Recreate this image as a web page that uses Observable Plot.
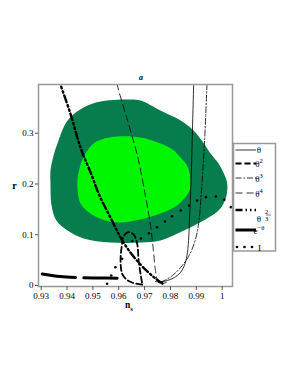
<!DOCTYPE html>
<html><head><meta charset="utf-8">
<script src="https://cdn.jsdelivr.net/npm/d3@7"></script>
<script src="https://cdn.jsdelivr.net/npm/@observablehq/plot@0.6"></script>
<style>body{margin:0;background:#fff}</style>
</head><body><div id="chart"></div>
<script>
const xTicks = [0.93,0.94,0.95,0.96,0.97,0.98,0.99,1];
const yTicks = [0,0.1,0.2,0.3];

// 95% CL region (ns, r)
const outer95 = [[0.9336,0.2009],[0.9336,0.2265],[0.9348,0.2561],[0.9363,0.2797],[0.9402,0.3250],[0.9464,0.3506],[0.9529,0.3624],[0.9634,0.3664],[0.9684,0.3644],[0.9761,0.3447],[0.9839,0.3250],[0.9889,0.3053],[0.9924,0.2836],[0.9955,0.2600],[0.9986,0.2403],[1.0001,0.2265],[1.0019,0.2029],[1.0017,0.1773],[1.0001,0.1576],[0.9982,0.1458],[0.9935,0.1300],[0.9877,0.1142],[0.9819,0.1005],[0.9761,0.0886],[0.9684,0.0847],[0.9568,0.0847],[0.9464,0.0926],[0.9402,0.1083],[0.9359,0.1280],[0.9340,0.1576]];
// 68% CL region
const inner68 = [[0.9440,0.2009],[0.9448,0.2304],[0.9467,0.2561],[0.9502,0.2797],[0.9545,0.2895],[0.9595,0.2935],[0.9684,0.2915],[0.9761,0.2797],[0.9808,0.2679],[0.9839,0.2521],[0.9866,0.2344],[0.9877,0.2108],[0.9874,0.1871],[0.9854,0.1714],[0.9819,0.1556],[0.9761,0.1418],[0.9684,0.1300],[0.9607,0.1241],[0.9549,0.1280],[0.9491,0.1418],[0.9452,0.1615]];

const theta1 = [[0.9891,0.42],[0.9885,0.3053],[0.9881,0.2265],[0.9875,0.1477],[0.9870,0.0886],[0.9864,0.0591],[0.9854,0.0394],[0.9839,0.0256],[0.9816,0.0158],[0.9788,0.0098],[0.9761,0.0069],[0.9742,0.0079]];
const theta2 = [[0.9690,0.0059],[0.9684,0.0236],[0.9677,0.0492],[0.9671,0.0827],[0.9657,0.1005],[0.9638,0.1050],[0.9618,0.0965],[0.9613,0.0827],[0.9607,0.0492],[0.9613,0.0236],[0.9630,0.0118],[0.9652,0.0059],[0.9696,0.0010]];
const theta3 = [[0.9943,0.42],[0.9932,0.2856],[0.9920,0.1871],[0.9908,0.1182],[0.9893,0.0847],[0.9870,0.0571],[0.9839,0.0355],[0.9808,0.0197],[0.9777,0.0098],[0.9754,0.0059]];
const theta4 = [[0.9587,0.42],[0.9594,0.3959],[0.9634,0.3250],[0.9672,0.2561],[0.9703,0.1773],[0.9723,0.1182],[0.9734,0.0689],[0.9742,0.0295],[0.9750,0.0098],[0.9761,0.0039],[0.9784,0.0059]];
const theta23 = [[0.9368,0.41],[0.9375,0.3959],[0.9413,0.3388],[0.9452,0.2718],[0.9491,0.2226],[0.9529,0.1733],[0.9568,0.1339],[0.9607,0.0945],[0.9645,0.0650],[0.9684,0.0414],[0.9715,0.0256],[0.9742,0.0138],[0.9769,0.0039]];
const expTheta = [[0.9304,0.0225],[0.9336,0.0200],[0.9375,0.0175],[0.9433,0.0157],[NaN,NaN],[0.9465,0.0152],[0.9529,0.0148],[0.9594,0.0143]];
const curveI = [[0.9555,0.0033],[0.9571,0.0197],[0.9587,0.0360],[0.9613,0.0525],[0.9652,0.0876],[0.9686,0.0925],[0.9717,0.1030],[0.9748,0.1148],[0.9779,0.1260],[0.9806,0.1365],[0.9840,0.1477],[0.9872,0.1576],[0.9903,0.1674],[0.9937,0.1740],[0.9976,0.1753],[1.0008,0.1688],[1.0034,0.1543]];

const X = d => d[0], Y = d => d[1];
const lineOpts = (extra) => Object.assign({x: X, y: Y, curve: "catmull-rom", stroke: "black", clip: true}, extra);

const plot = Plot.plot({
  width: 298, height: 385,
  marginTop: 84, marginBottom: 99, marginLeft: 38, marginRight: 66,
  style: {fontFamily: "Liberation Serif", fontSize: "9px", background: "white", color: "black"},
  x: {domain: [0.92896, 1.0040]},
  y: {domain: [-0.002, 0.396]},
  marks: [
    Plot.line(outer95, {x: X, y: Y, curve: "catmull-rom-closed", fill: "#077c4c", stroke: "none"}),
    Plot.line(inner68, {x: X, y: Y, curve: "catmull-rom-closed", fill: "#00f500", stroke: "none"}),
    Plot.line(theta1, lineOpts({strokeWidth: 0.8})),
    Plot.line(theta3, lineOpts({strokeWidth: 0.8, strokeDasharray: "6,2,1.5,2"})),
    Plot.line(theta4, lineOpts({strokeWidth: 0.8, strokeDasharray: "7,4"})),
    Plot.line(theta2, lineOpts({strokeWidth: 1.8, strokeDasharray: "6,3"})),
    Plot.line(theta23, lineOpts({strokeWidth: 2.4, strokeDasharray: "7,3,1.5,3,1.5,3"})),
    Plot.line(expTheta, lineOpts({strokeWidth: 3})),
    Plot.dot(curveI, {x: X, y: Y, r: 1.3, fill: "black", stroke: "none"}),
    Plot.frame({stroke: "#999", strokeWidth: 1.5}),
    Plot.axisX({ticks: xTicks, tickSize: 4, tickPadding: 2, label: null, stroke: "#555",
      tickFormat: d => d === 1 ? "1" : d.toFixed(2)}),
    Plot.axisY({ticks: yTicks, tickSize: 3, tickPadding: 2, label: null, stroke: "#555",
      tickFormat: d => d === 0 ? "0" : d.toFixed(1)})
  ]
});
document.getElementById("chart").appendChild(plot);

// titles, axis labels and legend
const svg = d3.select(plot);
const ff = "Liberation Serif";
function label(x, y, parts, opts = {}) {
  const t = svg.append("text").attr("x", x).attr("y", y).attr("font-family", ff)
    .attr("font-size", opts.size || 9).attr("fill", "black");
  if (opts.weight) t.attr("font-weight", opts.weight);
  if (opts.style) t.attr("font-style", opts.style);
  parts.forEach(p => {
    const s = t.append("tspan").text(p.t);
    if (p.dy) s.attr("dy", p.dy);
    if (p.size) s.attr("font-size", p.size);
  });
  return t;
}
label(141, 80, [{t: "a"}], {size: 8, weight: "bold", style: "italic"});
label(14.5, 189, [{t: "r"}], {size: 10, weight: "bold"});
label(129, 308, [{t: "n"}, {t: "s", dy: 2.5, size: 7}], {size: 9.5, weight: "bold"});

const lg = svg.append("g");
lg.append("rect").attr("x", 233.5).attr("y", 143.5).attr("width", 42).attr("height", 107.5)
  .attr("fill", "white").attr("stroke", "#999").attr("stroke-width", 1.5);
const entries = [
  {y: 150, w: 0.8, dash: null},
  {y: 163.5, w: 1.8, dash: "6,3"},
  {y: 178, w: 0.8, dash: "6,2,1.5,2"},
  {y: 193, w: 0.8, dash: "7,4"},
  {y: 210, w: 2.4, dash: "7,3,1.5,3,1.5,3"},
  {y: 230, w: 3, dash: null}
];
entries.forEach(e => {
  const l = lg.append("line").attr("x1", 235.5).attr("x2", 256).attr("y1", e.y).attr("y2", e.y)
    .attr("stroke", "black").attr("stroke-width", e.w);
  if (e.dash) l.attr("stroke-dasharray", e.dash);
});
[237, 244.5, 252].forEach(cx => lg.append("circle").attr("cx", cx).attr("cy", 247).attr("r", 1.3).attr("fill", "black"));

label(259, 153, [{t: "θ"}]);
label(259, 167, [{t: "θ"}, {t: "2", dy: -4, size: 6.5}]);
label(259, 181.5, [{t: "θ"}, {t: "3", dy: -4, size: 6.5}]);
label(259, 196.5, [{t: "θ"}, {t: "4", dy: -4, size: 6.5}]);
label(259, 222, [{t: "θ"}]);
label(266.5, 213.5, [{t: "2"}], {size: 6.5});
lg.append("line").attr("x1", 266).attr("x2", 271).attr("y1", 215).attr("y2", 215).attr("stroke", "black").attr("stroke-width", 0.5);
label(266.5, 220.5, [{t: "3"}], {size: 6.5});
label(259, 234, [{t: "e"}, {t: "−θ", dy: -4, size: 6.5}]);
label(259.5, 250.5, [{t: "I"}]);
</script>
</body></html>
